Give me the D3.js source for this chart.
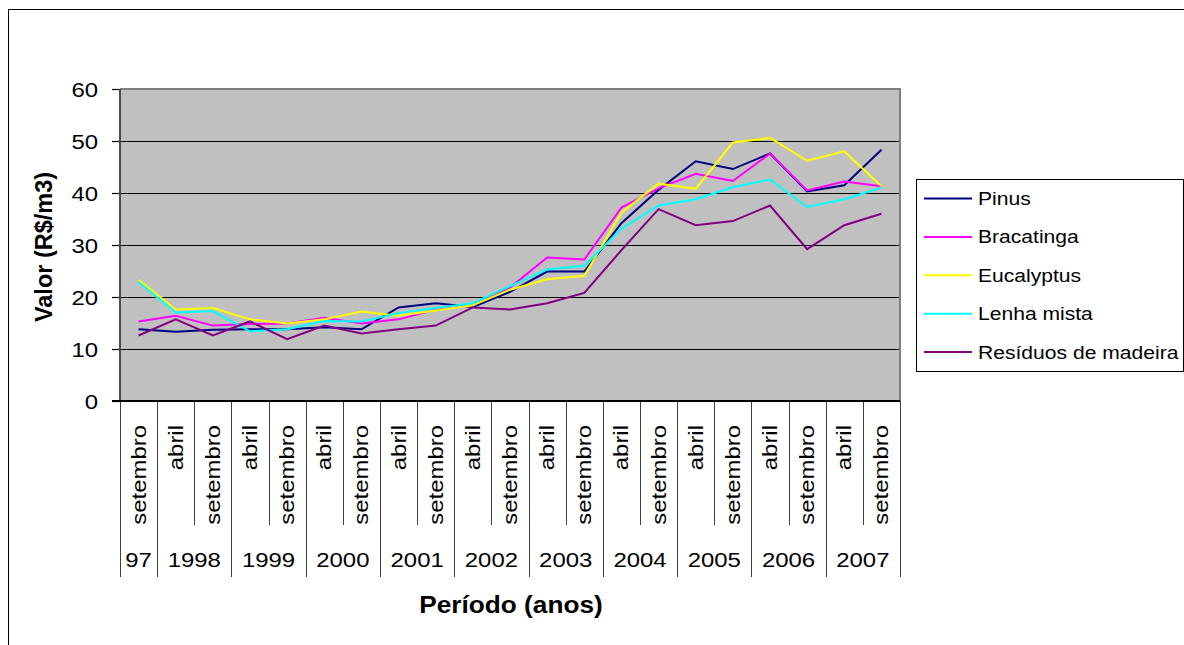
<!DOCTYPE html>
<html>
<head>
<meta charset="utf-8">
<script src="https://cdn.jsdelivr.net/npm/d3@7/dist/d3.min.js"></script>
<style>
  html, body { margin: 0; padding: 0; background: #fff; }
  svg { display: block; }
  text { font-family: Arial, "Liberation Sans", sans-serif; fill: #000; }
</style>
</head>
<body>
<svg id="chart" width="1184" height="645"></svg>
<script>
// Month of each observation (setembro 1997 .. setembro 2007)
const months = ["setembro",
  "abril", "setembro", "abril", "setembro", "abril", "setembro", "abril", "setembro", "abril", "setembro",
  "abril", "setembro", "abril", "setembro", "abril", "setembro", "abril", "setembro", "abril", "setembro"];
// Year label for each group of months
const yearLabels = ["97", "1998", "1999", "2000", "2001", "2002", "2003", "2004", "2005", "2006", "2007"];
const yTicks = [0, 10, 20, 30, 40, 50, 60];

const seriesNames = ["Pinus", "Bracatinga", "Eucalyptus", "Lenha mista", "Resíduos de madeira"];
const pinus      = [13.8, 13.3, 13.7, 13.8, 13.8, 14.2, 13.8, 18.0, 18.8, 18.1, 21.0, 24.9, 24.9, 34.2, 40.6, 46.1, 44.6, 47.6, 40.3, 41.5, 48.3];
const bracatinga = [15.3, 16.4, 14.5, 14.8, 14.9, 16.0, 14.9, 15.7, 17.6, 18.4, 21.8, 27.6, 27.2, 37.2, 40.9, 43.7, 42.3, 47.6, 40.5, 42.2, 41.3];
const eucalyptus = [23.3, 17.6, 17.9, 15.7, 14.9, 15.7, 17.2, 16.4, 17.4, 18.4, 21.4, 23.4, 24.1, 36.2, 41.8, 40.8, 49.7, 50.6, 46.2, 48.0, 41.3];
const lenhaMista = [22.9, 17.0, 17.3, 13.4, 13.8, 15.4, 15.3, 16.9, 17.9, 18.8, 22.1, 25.3, 26.0, 33.1, 37.6, 38.8, 41.1, 42.6, 37.3, 38.8, 41.0];
const residuos   = [12.6, 15.7, 12.6, 15.3, 11.9, 14.5, 13.0, 13.8, 14.5, 18.0, 17.6, 18.8, 20.8, 29.0, 36.9, 33.8, 34.6, 37.6, 29.2, 33.8, 36.0];
const seriesValues = [pinus, bracatinga, eucalyptus, lenhaMista, residuos];
const seriesColors = ["#000080", "#FF00FF", "#FFFF00", "#00FFFF", "#800080"];

const svg = d3.select("#chart");
const plot = { left: 120, right: 900, top: 89, bottom: 401 };
const stretch = 1.14;

// Outer chart frame (continues past the right and bottom edges)
svg.append("rect")
  .attr("x", 8.5).attr("y", 9.5).attr("width", 1200).attr("height", 700)
  .attr("fill", "#fff").attr("stroke", "#000").attr("stroke-width", 1);

const idx = d3.range(months.length);
const x = d3.scaleBand().domain(idx).range([plot.left, plot.right]).paddingInner(0).paddingOuter(0);
const cx = i => x(i) + x.bandwidth() / 2;
const y = d3.scaleLinear().domain([0, 60]).range([plot.bottom, plot.top]);

// Plot area background
svg.append("rect")
  .attr("x", plot.left).attr("y", plot.top)
  .attr("width", plot.right - plot.left).attr("height", plot.bottom - plot.top)
  .attr("fill", "#C0C0C0");

// Horizontal gridlines
svg.append("g").selectAll("line").data(yTicks.filter(t => t > 0 && t < 60)).join("line")
  .attr("x1", plot.left).attr("x2", plot.right)
  .attr("y1", d => Math.round(y(d)) + 0.5).attr("y2", d => Math.round(y(d)) + 0.5)
  .attr("stroke", "#000").attr("stroke-width", 1);

// Plot border (top and right)
svg.append("path")
  .attr("d", `M${plot.left},${plot.top} H${plot.right} V${plot.bottom}`)
  .attr("fill", "none").attr("stroke", "#808080").attr("stroke-width", 2);

// Y axis
const yAxis = d3.axisLeft(y).tickValues(yTicks).tickSize(8).tickPadding(0).tickFormat(d3.format("d"));
const yg = svg.append("g").attr("transform", `translate(${plot.left},0)`).call(yAxis);
yg.select(".domain").remove();
yg.selectAll(".tick line").attr("stroke", "#000").attr("stroke-width", 1.2);
yg.selectAll(".tick text").remove();
yg.selectAll(".tick").append("text")
  .attr("transform", `translate(-22,7) scale(${stretch},1)`)
  .attr("text-anchor", "end")
  .style("font-size", "21px")
  .text(d => d);

// Category dividers below the axis: short inside a year, long between years
const boundaries = d3.range(months.length + 1);
svg.append("g").selectAll("line").data(boundaries).join("line")
  .attr("x1", i => Math.round(i < months.length ? x(i) : plot.right) + 0.5)
  .attr("x2", i => Math.round(i < months.length ? x(i) : plot.right) + 0.5)
  .attr("y1", plot.bottom)
  .attr("y2", i => (i === 0 || i === months.length || months[i] === "abril") ? 577 : 525)
  .attr("stroke", "#404040").attr("stroke-width", 1);

// Left axis line and base line
svg.append("line")
  .attr("x1", plot.left).attr("x2", plot.left).attr("y1", plot.top).attr("y2", plot.bottom)
  .attr("stroke", "#4d4d4d").attr("stroke-width", 2);
svg.append("line")
  .attr("x1", plot.left - 8).attr("x2", plot.right).attr("y1", plot.bottom).attr("y2", plot.bottom)
  .attr("stroke", "#000").attr("stroke-width", 2);

// Month labels (rotated)
svg.append("g").selectAll("text").data(idx).join("text")
  .attr("transform", i => `translate(${cx(i) + 7},425) rotate(-90) scale(${stretch},1)`)
  .attr("text-anchor", "end")
  .style("font-size", "21px")
  .text(i => months[i]);

// Year labels centred under their months
const groups = [];
idx.forEach(i => {
  if (i === 0 || months[i] === "abril") groups.push({ start: i, end: i });
  else groups[groups.length - 1].end = i;
});
svg.append("g").selectAll("text").data(groups).join("text")
  .attr("transform", (g, k) => `translate(${(x(g.start) + x(g.end) + x.bandwidth()) / 2},567) scale(${stretch},1)`)
  .attr("text-anchor", "middle")
  .style("font-size", "21px")
  .text((g, k) => yearLabels[k]);

// Series lines
const line = d3.line().x((d, i) => cx(i)).y(d => y(d));
svg.append("g").selectAll("path").data(seriesValues).join("path")
  .attr("d", d => line(d))
  .attr("fill", "none")
  .attr("stroke", (d, k) => seriesColors[k])
  .attr("stroke-width", 2)
  .attr("stroke-linejoin", "miter");

// Axis titles
svg.append("text")
  .attr("transform", `translate(511,613) scale(${stretch},1)`)
  .attr("text-anchor", "middle")
  .style("font-size", "23px").style("font-weight", "bold")
  .text("Período (anos)");
svg.append("text")
  .attr("transform", "translate(52,247) rotate(-90)")
  .attr("text-anchor", "middle")
  .style("font-size", "23.5px").style("font-weight", "bold")
  .text("Valor (R$/m3)");

// Legend
const legend = svg.append("g");
legend.append("rect")
  .attr("x", 916.5).attr("y", 179.5).attr("width", 267).attr("height", 192)
  .attr("fill", "#fff").attr("stroke", "#000").attr("stroke-width", 1);
const rowY = k => 198.5 + k * 38.4;
legend.selectAll("line").data(seriesNames).join("line")
  .attr("x1", 924).attr("x2", 972)
  .attr("y1", (d, k) => rowY(k)).attr("y2", (d, k) => rowY(k))
  .attr("stroke", (d, k) => seriesColors[k]).attr("stroke-width", 2);
legend.selectAll("text").data(seriesNames).join("text")
  .attr("transform", (d, k) => `translate(978,${rowY(k) + 6.5}) scale(${stretch},1)`)
  .style("font-size", "18.5px")
  .text(d => d);
</script>
</body>
</html>
